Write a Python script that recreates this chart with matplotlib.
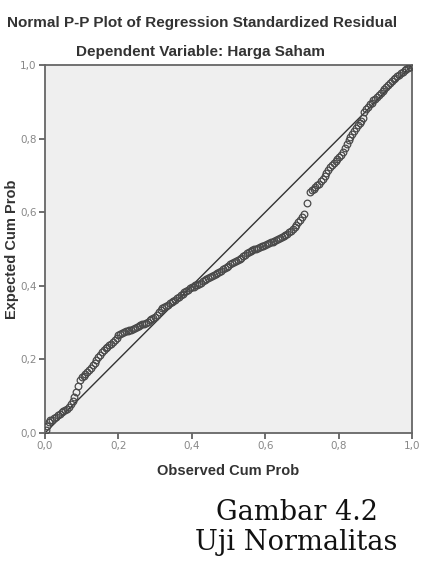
import matplotlib
matplotlib.use('Agg')
import matplotlib.pyplot as plt
from matplotlib.ticker import FuncFormatter

# observed vs expected cumulative probability
observed = [0.002, 0.005, 0.010, 0.015, 0.020, 0.025, 0.030, 0.035, 0.040, 0.045,
            0.050, 0.055, 0.060, 0.065, 0.070, 0.075, 0.080, 0.085, 0.090, 0.095,
            0.100, 0.105, 0.110, 0.115, 0.120, 0.125, 0.130, 0.135, 0.140, 0.145,
            0.150, 0.155, 0.160, 0.165, 0.170, 0.175, 0.180, 0.185, 0.190, 0.195,
            0.200, 0.205, 0.210, 0.215, 0.220, 0.225, 0.230, 0.235, 0.240, 0.245,
            0.250, 0.255, 0.260, 0.265, 0.270, 0.275, 0.280, 0.285, 0.290, 0.295,
            0.300, 0.305, 0.310, 0.315, 0.320, 0.325, 0.330, 0.335, 0.340, 0.345,
            0.350, 0.355, 0.360, 0.365, 0.370, 0.375, 0.380, 0.385, 0.390, 0.395,
            0.400, 0.405, 0.410, 0.415, 0.420, 0.425, 0.430, 0.435, 0.440, 0.445,
            0.450, 0.455, 0.460, 0.465, 0.470, 0.475, 0.480, 0.485, 0.490, 0.495,
            0.500, 0.505, 0.510, 0.515, 0.520, 0.525, 0.530, 0.535, 0.540, 0.545,
            0.550, 0.555, 0.560, 0.565, 0.570, 0.575, 0.580, 0.585, 0.590, 0.595,
            0.600, 0.605, 0.610, 0.615, 0.620, 0.625, 0.630, 0.635, 0.640, 0.645,
            0.650, 0.655, 0.660, 0.665, 0.670, 0.675, 0.680, 0.685, 0.690, 0.695,
            0.700, 0.705, 0.713, 0.722, 0.727, 0.732, 0.737, 0.742, 0.747, 0.752,
            0.757, 0.762, 0.767, 0.772, 0.777, 0.782, 0.787, 0.792, 0.797, 0.802,
            0.807, 0.812, 0.817, 0.822, 0.827, 0.832, 0.837, 0.842, 0.847, 0.852,
            0.857, 0.862, 0.866, 0.870, 0.875, 0.880, 0.885, 0.890, 0.895, 0.900,
            0.905, 0.910, 0.915, 0.920, 0.925, 0.930, 0.935, 0.940, 0.945, 0.950,
            0.955, 0.960, 0.965, 0.970, 0.975, 0.980, 0.985, 0.990, 0.995, 0.999]
expected = [0.008, 0.018, 0.030, 0.034, 0.036, 0.040, 0.044, 0.049, 0.052, 0.056,
            0.059, 0.062, 0.066, 0.071, 0.078, 0.088, 0.098, 0.112, 0.128, 0.145,
            0.152, 0.156, 0.161, 0.166, 0.172, 0.178, 0.184, 0.191, 0.198, 0.206,
            0.213, 0.220, 0.226, 0.230, 0.234, 0.238, 0.242, 0.246, 0.252, 0.259,
            0.266, 0.270, 0.273, 0.275, 0.277, 0.278, 0.279, 0.281, 0.283, 0.286,
            0.288, 0.290, 0.293, 0.295, 0.297, 0.300, 0.303, 0.306, 0.309, 0.312,
            0.316, 0.322, 0.329, 0.335, 0.340, 0.343, 0.346, 0.349, 0.352, 0.355,
            0.358, 0.362, 0.366, 0.370, 0.374, 0.378, 0.382, 0.385, 0.389, 0.393,
            0.396, 0.398, 0.401, 0.403, 0.406, 0.409, 0.412, 0.415, 0.418, 0.420,
            0.423, 0.426, 0.429, 0.432, 0.435, 0.438, 0.441, 0.445, 0.448, 0.452,
            0.455, 0.459, 0.462, 0.465, 0.468, 0.471, 0.474, 0.477, 0.481, 0.485,
            0.489, 0.492, 0.495, 0.497, 0.499, 0.501, 0.503, 0.505, 0.507, 0.509,
            0.511, 0.513, 0.516, 0.518, 0.520, 0.523, 0.525, 0.528, 0.530, 0.533,
            0.535, 0.538, 0.541, 0.545, 0.549, 0.554, 0.560, 0.566, 0.573, 0.580,
            0.588, 0.596, 0.625, 0.655, 0.660, 0.664, 0.668, 0.673, 0.678, 0.684,
            0.691, 0.699, 0.708, 0.716, 0.722, 0.728, 0.734, 0.739, 0.744, 0.750,
            0.756, 0.764, 0.774, 0.785, 0.796, 0.805, 0.813, 0.821, 0.829, 0.837,
            0.843, 0.849, 0.856, 0.873, 0.880, 0.887, 0.893, 0.898, 0.904, 0.909,
            0.914, 0.919, 0.925, 0.930, 0.936, 0.941, 0.946, 0.951, 0.956, 0.961,
            0.965, 0.969, 0.974, 0.978, 0.982, 0.986, 0.990, 0.993, 0.996, 0.999]
ticks = [0.0, 0.2, 0.4, 0.6, 0.8, 1.0]

fig = plt.figure(figsize=(4.22, 5.66), dpi=100)
ax = fig.add_axes([0.1066, 0.235, 0.8697, 0.650])
ax.set_facecolor('#efefef')

ax.plot([0, 1], [0, 1], color='#333333', lw=1.0, zorder=2)
ax.plot(observed, expected, linestyle='none', marker='o', markersize=4.8,
        markerfacecolor='none', markeredgecolor='#4a4a4a', markeredgewidth=0.9, zorder=3)

ax.set_xlim(0, 1)
ax.set_ylim(0, 1)
ax.set_xticks(ticks)
ax.set_yticks(ticks)
fmt = FuncFormatter(lambda v, p: f'{v:.1f}'.replace('.', ','))
ax.xaxis.set_major_formatter(fmt)
ax.yaxis.set_major_formatter(fmt)
ax.tick_params(direction='out', length=4, width=1.2, color='#555555',
               labelsize=7.5, labelcolor='#888888', pad=2)
for s in ax.spines.values():
    s.set_color('#666666')
    s.set_linewidth(1.3)

bold = dict(family='Liberation Sans', weight='bold', color='#333333')
fig.text(202 / 422, 1 - 23 / 566, 'Normal P-P Plot of Regression Standardized Residual',
         ha='center', va='center', fontsize=11, **bold)
fig.text(201 / 422, 1 - 52 / 566, 'Dependent Variable: Harga Saham',
         ha='center', va='center', fontsize=11, **bold)
ax.set_xlabel('Observed Cum Prob', fontsize=10.5, **bold)
ax.set_ylabel('Expected Cum Prob', fontsize=10.5, **bold)
ax.xaxis.set_label_coords(0.5, -31 / 368)
ax.yaxis.set_label_coords(-26 / 367, 0.5)

serif = dict(family='DejaVu Serif', color='#111111')
fig.text(297 / 422, 1 - 512 / 566, 'Gambar 4.2', ha='center', va='center', fontsize=19.5, **serif)
fig.text(296 / 422, 1 - 543 / 566, 'Uji Normalitas', ha='center', va='center', fontsize=19.5, **serif)

fig.savefig('out.png', dpi=100)
